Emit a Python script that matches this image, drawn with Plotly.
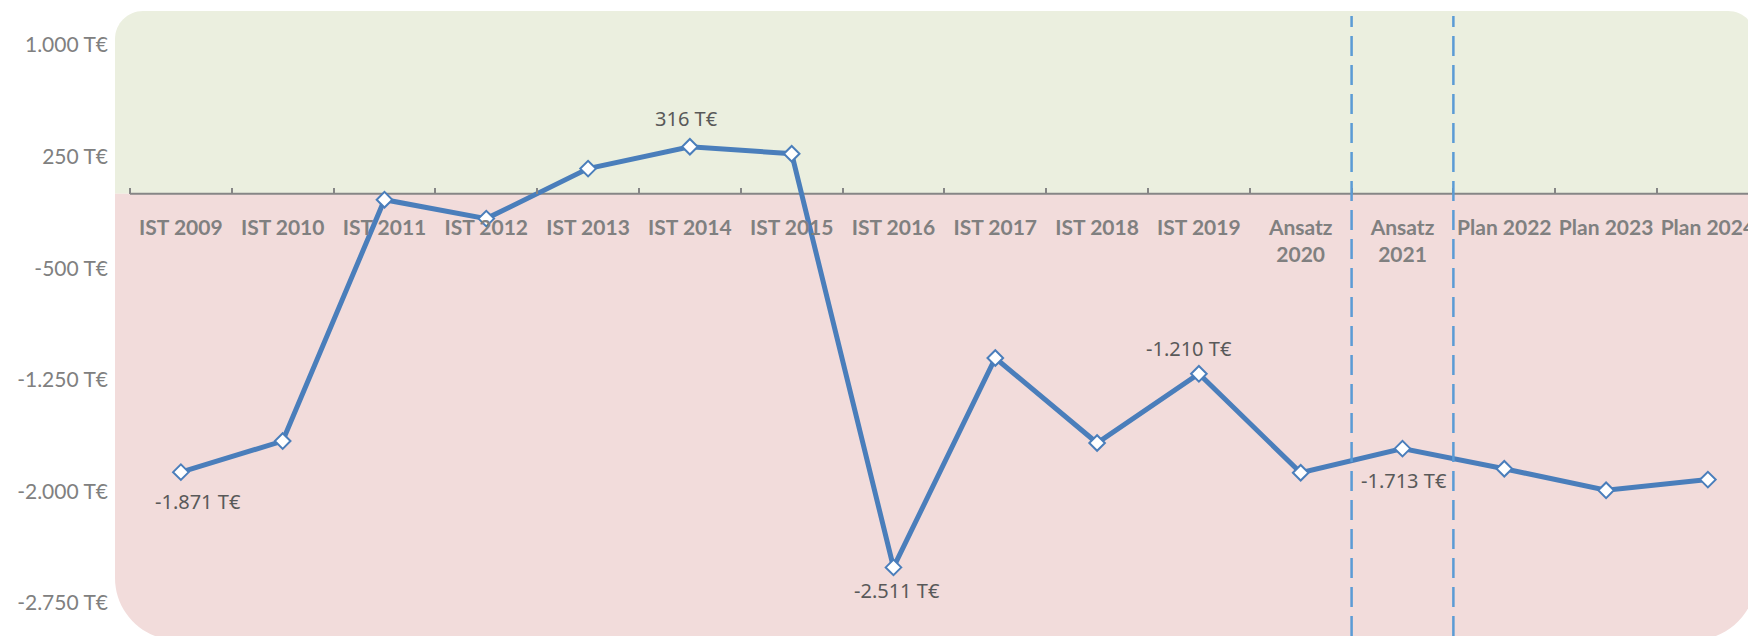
import plotly.graph_objects as go

# ---- data -------------------------------------------------------------
categories = [
    "IST 2009", "IST 2010", "IST 2011", "IST 2012", "IST 2013", "IST 2014",
    "IST 2015", "IST 2016", "IST 2017", "IST 2018", "IST 2019",
    "Ansatz<br>2020", "Ansatz<br>2021", "Plan 2022", "Plan 2023", "Plan 2024",
]
values = [-1871, -1662, -40, -167, 169, 316, 269, -2511,
          -1104, -1675, -1210, -1875, -1713, -1848, -1993, -1921]
y_ticks = [1000, 250, -500, -1250, -2000, -2750]
labelled = ["IST 2009", "IST 2014", "IST 2016", "IST 2019", "Ansatz<br>2021"]


def eur(v):
    return f"{v:,}".replace(",", ".") + " T€"


# ---- layout geometry ----------------------------------------------------
W, H = 1748, 636
ML = 114
Y_RANGE = [-2972, 1302]
X_RANGE = [-0.657, 15.394]

LINE_BLUE = "#4A7EBB"
GREEN_BG = "#EBEFDF"
RED_BG = "#F2DCDB"
AXIS_GREY = "#868686"
TEXT_GREY = "#808080"
LABEL_GREY = "#595959"

zero_frac = (0 - Y_RANGE[0]) / (Y_RANGE[1] - Y_RANGE[0])
zero_px = H * (1 - zero_frac)


def px(x):
    return (x - ML) / (W - ML)


def py(y):
    return (H - y) / H


def P(x, y):
    return f"{px(x):.5f},{py(y):.5f}"


K = 0.5523  # cubic approximation of a quarter circle

# rounded background panel: green above zero, red below zero
left, right, top, bottom = 115, 1756, 11, 640
rt, rb = 28, 62
green_path = (
    f"M {P(left, zero_px)} L {P(left, top + rt)} "
    f"C {P(left, top + rt - K * rt)} {P(left + rt - K * rt, top)} {P(left + rt, top)} "
    f"L {P(right - rt, top)} "
    f"C {P(right - rt + K * rt, top)} {P(right, top + rt - K * rt)} {P(right, top + rt)} "
    f"L {P(right, zero_px)} Z"
)
red_path = (
    f"M {P(left, zero_px)} L {P(left, bottom - rb)} "
    f"C {P(left, bottom - rb + K * rb)} {P(left + rb - K * rb, bottom)} {P(left + rb, bottom)} "
    f"L {P(right - rb, bottom)} "
    f"C {P(right - rb + K * rb, bottom)} {P(right, bottom - rb + K * rb)} {P(right, bottom - rb)} "
    f"L {P(right, zero_px)} Z"
)

fig = go.Figure()

fig.add_trace(go.Scatter(
    x=categories,
    y=values,
    mode="lines+markers",
    line=dict(color=LINE_BLUE, width=5),
    marker=dict(symbol="diamond", size=12, color="white",
                line=dict(color=LINE_BLUE, width=2)),
    hoverinfo="skip",
    showlegend=False,
))

shapes = [
    dict(type="path", path=green_path, xref="paper", yref="paper",
         fillcolor=GREEN_BG, line=dict(width=0), layer="below"),
    dict(type="path", path=red_path, xref="paper", yref="paper",
         fillcolor=RED_BG, line=dict(width=0), layer="below"),
    # category axis line at zero
    dict(type="line", xref="x", yref="y", x0=-0.5, x1=len(categories) - 0.5,
         y0=0, y1=0, line=dict(color=AXIS_GREY, width=2), layer="below"),
]

# dashed separators around the "Ansatz 2021" column
sep_idx = categories.index("Ansatz<br>2021")
for xb in (sep_idx - 0.5, sep_idx + 0.5):
    shapes.append(dict(type="line", xref="x", yref="paper", x0=xb, x1=xb,
                       y0=0, y1=py(16),
                       line=dict(color="#5B9BD5", width=2.5, dash="20px,9px")))

# value labels next to selected points
label_shift = {
    "IST 2009": (17, -29),
    "IST 2014": (-3, 28),
    "IST 2016": (4, -23),
    "IST 2019": (-10, 25),
    "Ansatz<br>2021": (2, -32),
}
annotations = []
for cat in labelled:
    v = values[categories.index(cat)]
    dx, dy = label_shift[cat]
    annotations.append(dict(
        x=cat, y=v, xref="x", yref="y", text=eur(v), showarrow=False,
        xshift=dx, yshift=dy,
        font=dict(family="Noto Sans", size=20, color=LABEL_GREY),
    ))

fig.update_layout(
    width=W, height=H,
    margin=dict(l=ML, r=0, t=0, b=0),
    paper_bgcolor="white",
    plot_bgcolor="rgba(0,0,0,0)",
    shapes=shapes,
    annotations=annotations,
    xaxis=dict(
        type="category",
        categoryorder="array",
        categoryarray=categories,
        range=X_RANGE,
        anchor="free",
        position=zero_frac,
        showline=False, showgrid=False, zeroline=False,
        ticks="inside", tickson="boundaries", ticklen=6, tickwidth=2,
        tickcolor=AXIS_GREY,
        tickangle=0,
        ticklabelstandoff=19,
        tickfont=dict(family="Lato", size=21, color=TEXT_GREY, weight="bold"),
        automargin=False,
    ),
    yaxis=dict(
        range=Y_RANGE,
        tickvals=y_ticks,
        ticktext=[eur(v) for v in y_ticks],
        showline=False, showgrid=False, zeroline=False,
        ticks="",
        ticklabelstandoff=5,
        tickfont=dict(family="Lato", size=21, color=TEXT_GREY),
        automargin=False,
    ),
)

fig.write_html("out.html")
